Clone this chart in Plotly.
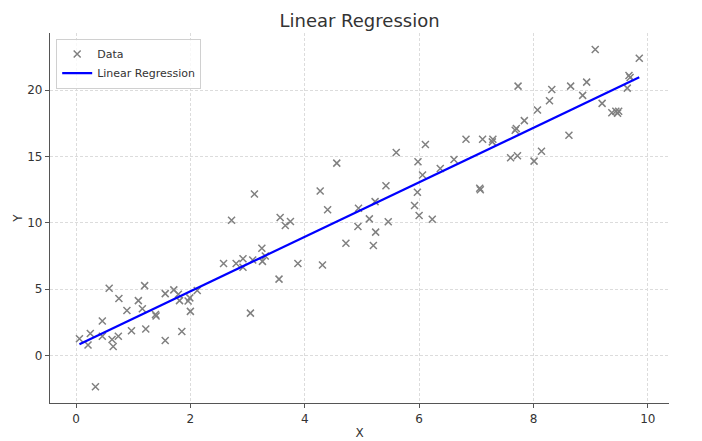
import numpy as np
import plotly.graph_objects as go

x_data = [0.06, 0.21, 0.25, 0.34, 0.46, 0.46, 0.58, 0.63, 0.65, 0.74,
          0.75, 0.89, 0.97, 1.09, 1.16, 1.20, 1.22, 1.39, 1.40, 1.56,
          1.56, 1.71, 1.79, 1.85, 1.81, 1.96, 1.99, 2.00, 2.12, 2.58,
          2.72, 2.80, 2.92, 2.92, 3.05, 3.09, 3.12, 3.25, 3.26, 3.31,
          3.55, 3.57, 3.66, 3.75, 3.88, 4.31, 4.27, 4.40, 4.56, 4.72,
          4.94, 4.93, 5.13, 5.20, 5.24, 5.23, 5.46, 5.42, 5.60, 5.92,
          6.00, 5.97, 5.98, 6.06, 6.11, 6.23, 6.37, 6.61, 6.82, 7.06,
          7.07, 7.11, 7.29, 7.28, 7.60, 7.72, 7.68, 7.70, 7.73, 7.84,
          8.01, 8.07, 8.14, 8.28, 8.32, 8.62, 8.65, 8.86, 8.93, 9.08,
          9.20, 9.37, 9.44, 9.49, 9.47, 9.64, 9.67, 9.69, 9.85]
y_data = [1.27, 0.80, 1.67, -2.35, 2.60, 1.46, 5.08, 1.21, 0.68, 1.46,
          4.30, 3.40, 1.87, 4.14, 3.53, 5.27, 2.00, 3.10, 2.98, 1.14,
          4.67, 4.95, 4.62, 1.82, 4.14, 4.12, 4.35, 3.33, 4.90, 6.94,
          10.20, 6.94, 7.30, 6.65, 3.20, 7.20, 12.17, 8.08, 7.10, 7.50,
          5.76, 10.40, 9.80, 10.10, 6.94, 6.82, 12.40, 10.98, 14.50, 8.46,
          11.10, 9.72, 10.30, 8.30, 9.30, 11.60, 10.08, 12.80, 15.30, 11.30,
          10.55, 12.30, 14.60, 13.60, 15.90, 10.27, 14.10, 14.77, 16.30, 12.60,
          12.50, 16.30, 16.30, 16.10, 14.90, 15.05, 16.97, 17.10, 20.30, 17.70,
          14.65, 18.50, 15.40, 19.20, 20.04, 16.60, 20.30, 19.60, 20.60, 23.05,
          19.00, 18.30, 18.40, 18.40, 18.25, 20.15, 21.10, 20.95, 22.40]

x_ticks = [0, 2, 4, 6, 8, 10]
y_ticks = [0, 5, 10, 15, 20]

xa = np.array(x_data)
ya = np.array(y_data)
slope, intercept = np.polyfit(xa, ya, 1)
order = np.argsort(xa)
x_line = xa[order]
y_line = slope * x_line + intercept

FONT = "DejaVu Sans"
TXT = "#333333"

# the page body adds an 8px offset; the figure is sized to fit the window
W, H = 694, 433

fig = go.Figure()
fig.add_trace(go.Scatter(
    x=x_data, y=y_data, mode="markers", name="Data",
    marker=dict(symbol="x-thin-open", size=7, color="#808080",
                line=dict(width=1.5, color="#808080")),
))
fig.add_trace(go.Scatter(
    x=x_line, y=y_line, mode="lines", name="Linear Regression",
    line=dict(color="#0000ff", width=2.2),
))

axis_common = dict(
    showline=True, linecolor="#555555", linewidth=1.3,
    ticks="outside", ticklen=4, tickcolor="#555555", tickwidth=1,
    showgrid=True, gridcolor="#dcdcdc", griddash="3px,2px", gridwidth=0.8,
    zeroline=False, tickfont=dict(family=FONT, size=12, color=TXT),
    mirror=False, automargin=False,
)

fig.update_layout(
    width=W, height=H,
    paper_bgcolor="white", plot_bgcolor="white",
    margin=dict(l=42, r=33, t=25, b=38),
    title=dict(text="Linear Regression", x=(359.5 - 8) / W, xanchor="center",
               y=1 - 13 / H, yanchor="middle", yref="container",
               automargin=False,
               font=dict(family=FONT, size=18, color=TXT)),
    xaxis=dict(range=[-0.455, 10.37], tickvals=x_ticks,
               title=dict(text="X", standoff=4,
                          font=dict(family=FONT, size=12, color=TXT)),
               **axis_common),
    yaxis=dict(range=[-3.57, 24.3], tickvals=y_ticks,
               title=dict(text="Y", standoff=1,
                          font=dict(family=FONT, size=12, color=TXT)),
               **axis_common),
    legend=dict(x=0.01, y=0.985, xanchor="left", yanchor="top",
                bgcolor="rgba(255,255,255,0.8)", bordercolor="#d0d0d0",
                borderwidth=1, font=dict(family=FONT, size=11, color=TXT),
                itemwidth=30, tracegroupgap=0),
    showlegend=True,
)

fig.write_html("out.html")
